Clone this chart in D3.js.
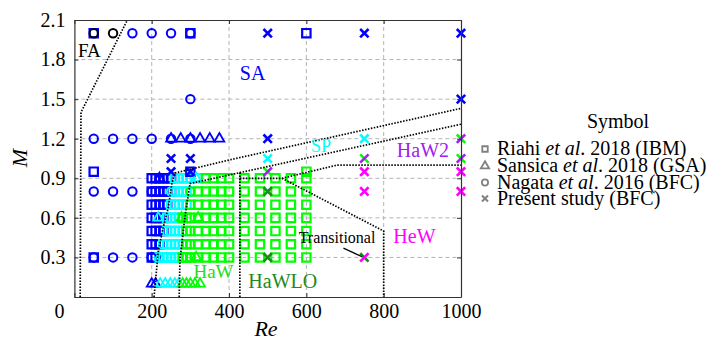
<!DOCTYPE html>
<html>
<head>
<meta charset="utf-8">
<script src="https://cdn.jsdelivr.net/npm/d3@7"></script>
<style>
  body { margin: 0; background: #fff; }
  svg { display: block; font-family: "Liberation Serif", "Times New Roman", serif; }
</style>
</head>
<body>
<svg id="chart" width="715" height="342"></svg>
<script>
// ---- data (Re, M, regime code) ----
// regime codes: K FA, B SA, C SP, G HaW, D HaWLO, P HaW2, M HeW
const xTicks = [0, 200, 400, 600, 800, 1000];
const yTicks = [0, 0.3, 0.6, 0.9, 1.2, 1.5, 1.8, 2.1];

// Riahi et al. 2018 (IBM) - regular sweep, one regime string per Mach row
const riahiGridRe = [200, 210, 220, 230, 240, 250, 260, 270, 280, 290, 300,
                     320, 340, 360, 380, 400, 440, 480, 520, 560, 600];
const riahiGridM = [0.3, 0.4, 0.5, 0.6, 0.7, 0.8, 0.9];
const riahiGridRegime = [
  'BBCCCCCCGGGGGGGGGGGGG',
  'BBBCCCCCCGGGGGGGGGGGG',
  'BBBBCCCCCGGGGGGGGGGGG',
  'BBBBCCCCGGGGGGGGGGGGG',
  'BBBBBCCCCCGGGGGGGGGGG',
  'BBBBBBCCCCCGGGGGGGGGG',
  'BBBBBBCCCCCCGGGGGGGGG'
];
const riahiExtra = [
  [50, 0.3, 'B'], [50, 0.95, 'B'], [50, 2.0, 'B'], [300, 2.0, 'B'],
  [600, 2.0, 'B'], [300, 0.95, 'B'], [600, 0.95, 'G']
];

// Sansica et al. 2018 (GSA)
const sansicaPts = [
  [200, 0.1, 'B'], [210, 0.1, 'B'], [222, 0.1, 'C'], [235, 0.1, 'C'], [248, 0.1, 'C'],
  [260, 0.1, 'C'], [270, 0.1, 'C'], [280, 0.1, 'G'], [290, 0.1, 'G'], [300, 0.1, 'G'],
  [312, 0.1, 'G'], [325, 0.1, 'G'],
  [220, 0.3, 'C'], [315, 0.3, 'G'],
  [217, 0.6, 'C'], [277, 0.6, 'G'], [320, 0.6, 'G'],
  [220, 0.9, 'B'], [315, 0.9, 'C'],
  [250, 1.2, 'B'], [275, 1.2, 'B'], [300, 1.2, 'B'], [325, 1.2, 'B'], [350, 1.2, 'B'], [375, 1.2, 'B']
];

// Nagata et al. 2016 (BFC)
const nagataPts = [
  [50, 2.0, 'K'], [100, 2.0, 'K'], [150, 2.0, 'B'], [200, 2.0, 'B'], [250, 2.0, 'B'], [300, 2.0, 'B'],
  [300, 1.5, 'B'],
  [50, 1.2, 'B'], [100, 1.2, 'B'], [150, 1.2, 'B'], [200, 1.2, 'B'], [250, 1.2, 'B'], [300, 1.2, 'B'],
  [50, 0.8, 'B'], [100, 0.8, 'B'], [150, 0.8, 'B'], [200, 0.8, 'B'], [250, 0.8, 'C'], [300, 0.8, 'G'],
  [50, 0.3, 'B'], [100, 0.3, 'B'], [150, 0.3, 'B'], [200, 0.3, 'B'], [250, 0.3, 'C'], [300, 0.3, 'G']
];

// Present study (BFC); two letters = the two strokes of the cross
const presentPts = [
  [250, 0.95, 'B'], [250, 1.05, 'B'], [300, 0.95, 'B'], [300, 1.05, 'B'],
  [500, 2.0, 'B'], [500, 1.2, 'B'], [500, 1.05, 'C'], [500, 0.95, 'GP'], [500, 0.8, 'D'], [500, 0.3, 'D'],
  [750, 2.0, 'B'], [750, 1.2, 'C'], [750, 1.05, 'GP'], [750, 0.95, 'M'], [750, 0.8, 'M'], [750, 0.3, 'DM'],
  [1000, 2.0, 'B'], [1000, 1.5, 'B'], [1000, 1.2, 'GP'], [1000, 1.05, 'GP'], [1000, 0.95, 'M'], [1000, 0.8, 'M']
];

// regime boundaries (Re, M)
const boundaries = [
  [[15, 0], [17, 1.4], [137, 2.1]],
  [[206, 0], [217, 0.35], [230, 0.53], [243, 0.68], [252, 0.86], [260, 0.94], [402, 1.04], [1000, 1.43]],
  [[271, 0], [273, 0.28], [286, 0.61], [299, 0.86], [1000, 1.31]],
  [[428, 0], [428, 0.945]],
  [[428, 0.9], [537, 0.9], [679, 1.0], [1000, 1.0]],
  [[537, 0.9], [800, 0.5], [800, 0]]
];
const pointerLine = [[696, 0.37], [744, 0.305]];

// ---- drawing ----
const regimeColor = {
  K: '#000000', B: '#0000ff', C: '#00ffff', G: '#00ff00',
  D: '#1e8a1e', P: '#a020f0', M: '#ff00ff'
};

const svg = d3.select('#chart');
const x = d3.scaleLinear().domain([0, 1000]).range([74.4, 461]);
const y = d3.scaleLinear().domain([0, 2.1]).range([297, 20]);

// grid
const grid = svg.append('g')
  .attr('stroke', '#b4b4b4').attr('stroke-width', 1).attr('stroke-dasharray', '4,3');
grid.selectAll('line.v').data(xTicks.slice(1, -1)).enter().append('line')
  .attr('x1', d => x(d)).attr('x2', d => x(d)).attr('y1', y(0)).attr('y2', y(2.1));
grid.selectAll('line.h').data(yTicks.slice(1, -1)).enter().append('line')
  .attr('y1', d => y(d)).attr('y2', d => y(d)).attr('x1', x(0)).attr('x2', x(1000));

const plot = svg.append('g');
const circle = d3.symbol().type(d3.symbolCircle).size(56)();
const square = d3.symbol().type(d3.symbolSquare).size(70)();
const triangle = d3.symbol().type(d3.symbolTriangle).size(42)();

// squares
const riahiPts = [];
riahiGridM.forEach((m, i) => {
  riahiGridRe.forEach((re, j) => riahiPts.push([re, m, riahiGridRegime[i][j]]));
});
riahiExtra.forEach(p => riahiPts.push(p));
plot.selectAll('path.riahi').data(riahiPts).enter().append('path')
  .attr('d', square)
  .attr('transform', d => `translate(${x(d[0])},${y(d[1])})`)
  .attr('fill', 'none').attr('stroke', d => regimeColor[d[2]]).attr('stroke-width', 2.2);

// circles
plot.selectAll('path.nagata').data(nagataPts).enter().append('path')
  .attr('d', circle)
  .attr('transform', d => `translate(${x(d[0])},${y(d[1])})`)
  .attr('fill', 'none').attr('stroke', d => regimeColor[d[2]]).attr('stroke-width', 2);

// triangles
plot.selectAll('path.sansica').data(sansicaPts).enter().append('path')
  .attr('d', triangle)
  .attr('transform', d => `translate(${x(d[0])},${y(d[1])})`)
  .attr('fill', 'none').attr('stroke', d => regimeColor[d[2]]).attr('stroke-width', 1.8);

// crosses
const r = 4.2;
const crossStrokes = [`M${-r},${-r}L${r},${r}`, `M${-r},${r}L${r},${-r}`];
const crosses = plot.selectAll('g.present').data(presentPts).enter().append('g')
  .attr('transform', d => `translate(${x(d[0])},${y(d[1])})`);
crossStrokes.forEach((path, i) => {
  crosses.append('path')
    .attr('d', path)
    .attr('fill', 'none').attr('stroke-width', 2.6)
    .attr('stroke', d => regimeColor[d[2][i] || d[2][0]]);
});

// boundaries
const line = d3.line().x(d => x(d[0])).y(d => y(d[1]));
svg.append('g').selectAll('path').data(boundaries).enter().append('path')
  .attr('d', line)
  .attr('fill', 'none').attr('stroke', '#000').attr('stroke-width', 1.7)
  .attr('stroke-dasharray', '1.5,1.5');
svg.append('path').attr('d', line(pointerLine))
  .attr('stroke', '#000').attr('stroke-width', 1.3).attr('fill', 'none');

// region labels
const labels = [
  { t: 'FA', re: 9, m: 1.82, c: '#000', s: 19 },
  { t: 'SA', re: 428, m: 1.645, c: regimeColor.B, s: 20 },
  { t: 'SP', re: 612, m: 1.10, c: regimeColor.C, s: 18 },
  { t: 'HaW2', re: 834, m: 1.064, c: regimeColor.P, s: 20 },
  { t: 'HeW', re: 825, m: 0.407, c: regimeColor.M, s: 20 },
  { t: 'Transitional', re: 580, m: 0.407, c: '#000', s: 16 },
  { t: 'HaW', re: 308, m: 0.147, c: '#22dd22', s: 19 },
  { t: 'HaWLO', re: 450, m: 0.066, c: regimeColor.D, s: 20 }
];
svg.append('g').selectAll('text').data(labels).enter().append('text')
  .attr('x', d => x(d.re)).attr('y', d => y(d.m))
  .attr('fill', d => d.c).attr('font-size', d => d.s)
  .text(d => d.t);

// axes (inward ticks on all four sides)
const fmtY = d => d === 0 ? '' : d3.format('.1f')(d);
const fmtX = d => d === 0 ? '' : d;
function styleAxis(g) {
  g.attr('font-family', null);
  g.selectAll('path.domain').attr('stroke', '#333').attr('stroke-width', 1.2);
  g.selectAll('.tick line').attr('stroke', '#333');
  g.selectAll('.tick text').attr('font-size', 20).attr('fill', '#000');
}
svg.append('g').attr('transform', `translate(0,${y(0)})`)
  .call(d3.axisBottom(x).tickValues(xTicks).tickFormat(fmtX).tickSize(-4).tickSizeOuter(0).tickPadding(7))
  .call(styleAxis);
svg.append('g').attr('transform', `translate(${x(0)},0)`)
  .call(d3.axisLeft(y).tickValues(yTicks).tickFormat(fmtY).tickSize(-4).tickSizeOuter(0).tickPadding(9))
  .call(styleAxis);
svg.append('g').attr('transform', `translate(0,${y(2.1)})`)
  .call(d3.axisTop(x).tickValues(xTicks).tickFormat('').tickSize(-4).tickSizeOuter(0))
  .call(styleAxis);
svg.append('g').attr('transform', `translate(${x(1000)},0)`)
  .call(d3.axisRight(y).tickValues(yTicks).tickFormat('').tickSize(-4).tickSizeOuter(0))
  .call(styleAxis);

// shared origin label
svg.append('text').attr('x', x(0) - 15).attr('y', y(0) + 21)
  .attr('text-anchor', 'middle').attr('font-size', 20).text('0');

svg.append('text').attr('x', 266).attr('y', 336)
  .attr('text-anchor', 'middle').attr('font-size', 22).attr('font-style', 'italic').text('Re');
svg.append('text').attr('transform', 'translate(27,158) rotate(-90)')
  .attr('text-anchor', 'middle').attr('font-size', 22).attr('font-style', 'italic').text('M');

// legend
const legend = svg.append('g').attr('transform', 'translate(485,0)');
legend.append('text').attr('x', 133).attr('y', 128).attr('text-anchor', 'middle')
  .attr('font-size', 20).text('Symbol');
const legendY = [149, 166, 182.5, 198.5];
const gray = '#808080';
const small = [
  d3.symbol().type(d3.symbolSquare).size(30)(),
  d3.symbol().type(d3.symbolTriangle).size(30)(),
  d3.symbol().type(d3.symbolCircle).size(30)()
];
small.forEach((p, i) => {
  legend.append('path').attr('d', p).attr('transform', `translate(0,${legendY[i]})`)
    .attr('fill', 'none').attr('stroke', gray).attr('stroke-width', 1.8);
});
legend.append('path').attr('d', 'M-3,-3L3,3M-3,3L3,-3')
  .attr('transform', `translate(0,${legendY[3]})`)
  .attr('stroke', gray).attr('stroke-width', 2);

const cites = [
  ['Riahi ', 'et al', '. 2018 (IBM)'],
  ['Sansica ', 'et al', '. 2018 (GSA)'],
  ['Nagata ', 'et al', '. 2016 (BFC)'],
  ['Present study (BFC)', '', '']
];
cites.forEach((c, i) => {
  const t = legend.append('text').attr('x', 12).attr('y', legendY[i] + 6).attr('font-size', 20);
  t.append('tspan').text(c[0]);
  if (c[1]) t.append('tspan').attr('font-style', 'italic').text(c[1]);
  if (c[2]) t.append('tspan').text(c[2]);
});
</script>
</body>
</html>
